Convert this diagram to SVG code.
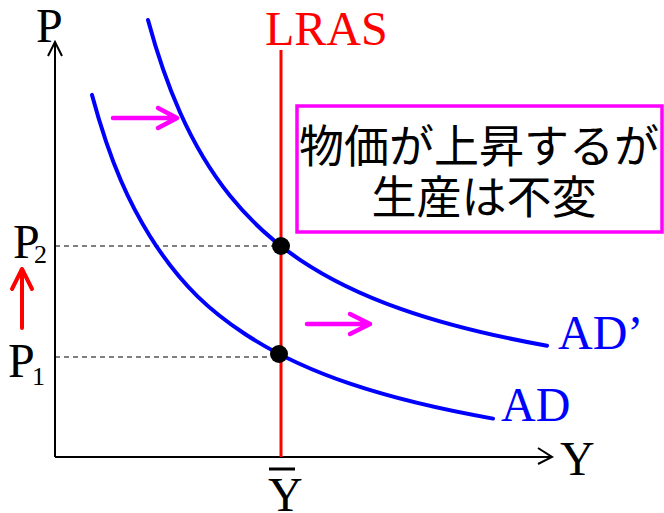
<svg xmlns="http://www.w3.org/2000/svg" width="664" height="513" viewBox="0 0 664 513">
<style>
.serif{font-family:"Liberation Serif","Times New Roman",serif;}
.big{font-size:48px;}
.sub{font-size:26px;}
.cjk{font-family:"Noto Sans CJK JP","Noto Sans",sans-serif;font-size:45px;fill:#000;}
.axis{stroke:#000;stroke-width:2;fill:none;}
.dash{stroke:#000;stroke-width:1.2;stroke-dasharray:5 4;fill:none;}
.curve{stroke:#0000FF;stroke-width:4;fill:none;stroke-linecap:round;}
.mag{stroke:#FF00FF;stroke-width:4.5;fill:none;stroke-linecap:round;stroke-linejoin:round;}
.red{stroke:#FF0000;stroke-width:4;fill:none;stroke-linecap:round;stroke-linejoin:round;}
</style>
<rect width="664" height="513" fill="#fff"/>
<g id="axes">
<path class="axis" d="M55,457 V42 M48,56 L55,42 L62,56"/>
<path class="axis" d="M55,457 H552 M538,448 L552,457 L538,464"/>
<text class="serif big" x="36" y="42">P</text>
<text class="serif big" x="560" y="475">Y</text>
</g>
<g id="connectors">
<path class="dash" d="M55,246 H281"/>
<path class="dash" d="M55,357 H279"/>
<path class="mag" d="M113,118 H177 M158,108 L177,118 L158,128"/>
<path class="mag" d="M307,324 H370 M350,314 L370,324 L350,334"/>
<path class="red" d="M22,328 V269 M12,289 L22,269 L32,289"/>
</g>
<g id="lras">
<line x1="281" y1="50" x2="281" y2="457" stroke="#FF0000" stroke-width="3"/>
<text class="serif big" x="265" y="45" fill="#FF0000">LRAS</text>
</g>
<g id="ad">
<path class="curve" d="M92,94.9 C111.33,166.4 130.67,205.2 150,236.2 C181.67,287 213.33,313.1 245,334 C280,357.1 315,371.8 350,383.7 C397.67,399.8 445.33,410.2 493,418.6"/>
<text class="serif big" x="501" y="421" fill="#0000FF">AD</text>
</g>
<g id="ad2">
<path class="curve" d="M148,20 C158.67,59.5 169.33,88.3 180,112.3 C196.67,149.7 213.33,175.1 230,195.8 C253.33,224.8 276.67,244.1 300,259.8 C333.33,282.2 366.67,296.8 400,308.6 C449,326 498,336.9 547,345.75"/>
<text class="serif big" x="558" y="349" fill="#0000FF">AD’</text>
</g>
<g id="points">
<circle cx="281" cy="246" r="9" fill="#000"/>
<circle cx="279" cy="354" r="9" fill="#000"/>
</g>
<g id="p2">
<text class="serif big" x="13" y="258">P</text>
<text class="serif sub" x="34" y="263">2</text>
</g>
<g id="p1">
<text class="serif big" x="8" y="377">P</text>
<text class="serif sub" x="32" y="385">1</text>
</g>
<g id="ybar">
<line x1="269" y1="469" x2="295" y2="469" stroke="#000" stroke-width="3"/>
<text class="serif big" x="268" y="511">Y</text>
</g>
<g id="note">
<rect x="297" y="106" width="365" height="126" fill="#fff" stroke="#FF00FF" stroke-width="3.5"/>
<text class="cjk" x="479" y="163" text-anchor="middle">物価が上昇するが</text>
<text class="cjk" x="484" y="214" text-anchor="middle">生産は不変</text>
</g>
</svg>
